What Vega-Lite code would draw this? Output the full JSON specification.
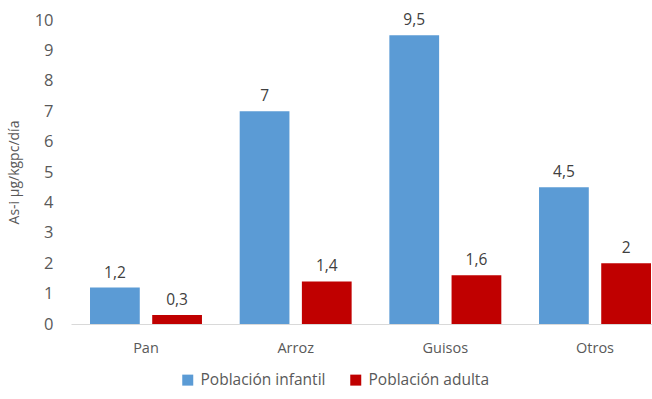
{
  "$schema": "https://vega.github.io/schema/vega-lite/v6.json",
  "width": 581,
  "height": 304,
  "autosize": {"type": "none"},
  "padding": {"left": 71, "top": 20, "right": 0, "bottom": 75},
  "background": "white",
  "config": {
    "view": {"stroke": null},
    "font": "Open Sans",
    "locale": {"number": {"decimal": ",", "thousands": ".", "grouping": [3], "currency": ["", " €"]}}
  },
  "data": {
    "values": [
      {"categoria": "Pan", "poblacion": "Población infantil", "valor": 1.2},
      {"categoria": "Pan", "poblacion": "Población adulta", "valor": 0.3},
      {"categoria": "Arroz", "poblacion": "Población infantil", "valor": 7},
      {"categoria": "Arroz", "poblacion": "Población adulta", "valor": 1.4},
      {"categoria": "Guisos", "poblacion": "Población infantil", "valor": 9.5},
      {"categoria": "Guisos", "poblacion": "Población adulta", "valor": 1.6},
      {"categoria": "Otros", "poblacion": "Población infantil", "valor": 4.5},
      {"categoria": "Otros", "poblacion": "Población adulta", "valor": 2}
    ]
  },
  "encoding": {
    "x": {
      "field": "categoria", "type": "nominal", "sort": ["Pan", "Arroz", "Guisos", "Otros"],
      "scale": {"range": [0, 599], "paddingInner": 0.252, "paddingOuter": 0.127},
      "axis": {"title": null, "labelAngle": 0, "ticks": false, "domainColor": "#D9D9D9", "labelColor": "#595959", "labelFontSize": 14.5, "labelPadding": 17}
    },
    "xOffset": {
      "field": "poblacion", "type": "nominal", "sort": ["Población infantil", "Población adulta"],
      "scale": {"paddingInner": 0.2, "paddingOuter": 0}
    },
    "y": {
      "field": "valor", "type": "quantitative",
      "scale": {"domain": [0, 10]},
      "axis": {"title": "As-i µg/kgpc/día", "values": [0,1,2,3,4,5,6,7,8,9,10], "grid": false, "domain": false, "ticks": false, "labelColor": "#595959", "labelFontSize": 16.5, "labelPadding": 18, "titleColor": "#595959", "titleFontSize": 14, "titleFontWeight": "normal", "titlePadding": 13}
    },
    "color": {
      "field": "poblacion", "type": "nominal", "sort": ["Población infantil", "Población adulta"],
      "scale": {"range": ["#5B9BD5", "#C00000"]},
      "legend": {"title": null, "orient": "none", "legendX": 109, "legendY": 352, "direction": "horizontal", "symbolType": "square", "symbolSize": 121, "symbolStrokeWidth": 0, "symbolOpacity": 1, "labelColor": "#595959", "labelFontSize": 15.5, "columnPadding": 22, "labelOffset": 5}
    }
  },
  "layer": [
    {"mark": {"type": "bar"}},
    {
      "mark": {"type": "text", "dy": -15, "fontSize": 15.5, "color": "#404040"},
      "encoding": {"text": {"field": "valor", "type": "quantitative", "format": ".2~f"}, "color": {"value": "#404040"}}
    }
  ]
}
